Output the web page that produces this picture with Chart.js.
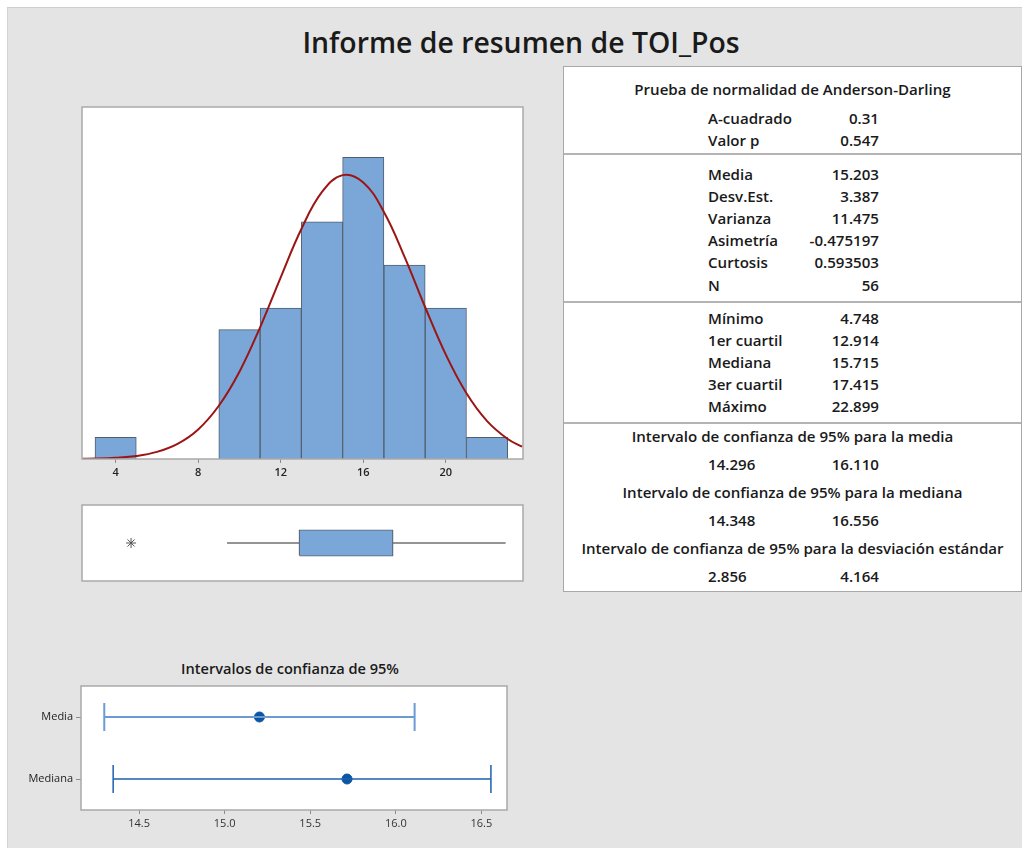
<!DOCTYPE html>
<html>
<head>
<meta charset="utf-8">
<script src="https://cdn.jsdelivr.net/npm/chart.js@4.4.1/dist/chart.umd.min.js"></script>
<style>
  body { margin: 0; background: #fff; font-family: "Open Sans", sans-serif; color: #1a1a1a; }
  #panel { position: absolute; left: 7px; top: 7px; width: 1015px; height: 841px; background: #e4e4e4;
           border-top: 1px solid #cfcfcf; border-left: 1px solid #d4d4d4; }
  .abs { position: absolute; }
  #title { left: 221px; width: 600px; top: 22px; text-align: center; font-size: 28.4px; font-weight: 600; line-height: 40px; }
  #ciTitle { left: 140px; width: 300px; top: 657px; text-align: center; font-size: 14.6px; font-weight: 600; line-height: 22px; }
  #stats { left: 563px; top: 66px; width: 457px; height: 524px; background: #fff; border: 1px solid #a8a8a8; }
  #stats div { position: absolute; font-size: 15.1px; font-weight: 600; line-height: 20px; white-space: nowrap; }
  #stats .sep { height: 0; border-top: 2px solid #b4b4b4; left: 0; width: 457px; }
  canvas { position: absolute; }
</style>
</head>
<body>
<div id="panel"></div>
<div id="title" class="abs">Informe de resumen de TOI_Pos</div>
<div id="ciTitle" class="abs">Intervalos de confianza de 95%</div>
<div id="stats" class="abs"></div>
<canvas id="hist" width="480" height="400" style="left:60px;top:95px"></canvas>
<canvas id="box" width="480" height="95" style="left:60px;top:495px"></canvas>
<canvas id="ci" width="540" height="190" style="left:0px;top:650px"></canvas>
<script>
// histogram: bin mid points (width 2) and counts
const binMids = [4, 6, 8, 10, 12, 14, 16, 18, 20, 22];
const binCounts = [1, 0, 0, 6, 7, 11, 14, 9, 7, 1];
// fitted normal curve
const curveX = [2.4, 3, 4, 5, 6, 7, 8, 9, 10, 11, 12, 13, 14, 15, 16, 17, 18, 19, 20, 21, 22, 23, 23.7];
const curveY = [0.01, 0.02, 0.06, 0.14, 0.33, 0.70, 1.37, 2.47, 4.05, 6.11, 8.43, 10.67, 12.39, 13.17, 12.83, 11.46, 9.38, 7.04, 4.84, 3.05, 1.76, 0.93, 0.57];
const histTicks = [4, 8, 12, 16, 20];

// boxplot
const boxWhiskers = [9.4, 22.899];
const boxQuartiles = [12.914, 15.715, 17.415]; // Q1, median, Q3
const boxOutliers = [4.748];

// confidence intervals
const ciCats = ['Media', 'Mediana'];
const ciLow = [14.296, 14.348];
const ciMid = [15.203, 15.715];
const ciHigh = [16.110, 16.556];
const ciTicks = [14.5, 15.0, 15.5, 16.0, 16.5];

// summary table
const adLabels = ['A-cuadrado', 'Valor p'];
const adValues = ['0.31', '0.547'];
const descLabels = ['Media', 'Desv.Est.', 'Varianza', 'Asimetría', 'Curtosis', 'N'];
const descValues = ['15.203', '3.387', '11.475', '-0.475197', '0.593503', '56'];
const quantLabels = ['Mínimo', '1er cuartil', 'Mediana', '3er cuartil', 'Máximo'];
const quantValues = ['4.748', '12.914', '15.715', '17.415', '22.899'];
const intTitles = ['Intervalo de confianza de 95% para la media',
                   'Intervalo de confianza de 95% para la mediana',
                   'Intervalo de confianza de 95% para la desviación estándar'];
const intLow = ['14.296', '14.348', '2.856'];
const intHigh = ['16.110', '16.556', '4.164'];

// ---- table ----
const stats = document.getElementById('stats');
const ROW = 22.2, LBL = 144, VAL_R = 315, TW = 457;
function put(text, cy, opts) {
  const d = document.createElement('div');
  d.textContent = text;
  d.style.top = (cy - 10) + 'px';
  if (opts === 'center') { d.style.left = '0'; d.style.width = TW + 'px'; d.style.textAlign = 'center'; }
  else if (opts === 'right') { d.style.right = (TW - VAL_R) + 'px'; }
  else d.style.left = LBL + 'px';
  stats.appendChild(d);
}
function sep(y) { const d = document.createElement('div'); d.className = 'sep'; d.style.top = y + 'px'; stats.appendChild(d); }
function rows(labels, values, y0) {
  labels.forEach((l, i) => { put(l, y0 + i * ROW); put(values[i], y0 + i * ROW, 'right'); });
}
put('Prueba de normalidad de Anderson-Darling', 22, 'center');
rows(adLabels, adValues, 50.5);
sep(85.5);
rows(descLabels, descValues, 106.5);
sep(233.5);
rows(quantLabels, quantValues, 250.5);
sep(354.5);
intTitles.forEach((t, i) => {
  const y = 369 + i * 56;
  put(t, y, 'center');
  put(intLow[i], y + 27.5);
  put(intHigh[i], y + 27.5, 'right');
});

// ---- shared ----
Chart.defaults.font.family = '"Open Sans", sans-serif';
Chart.defaults.animation = false;
Chart.defaults.plugins.legend.display = false;
Chart.defaults.plugins.tooltip.enabled = false;

const frame = {
  id: 'frame',
  beforeDraw(chart) {
    const { ctx, chartArea: a } = chart;
    ctx.save();
    ctx.fillStyle = '#fff';
    ctx.fillRect(a.left, a.top, a.right - a.left, a.bottom - a.top);
    ctx.restore();
  },
  afterDraw(chart) {
    const { ctx, chartArea: a } = chart;
    ctx.save();
    ctx.strokeStyle = '#a9a9a9';
    ctx.lineWidth = 1.5;
    ctx.strokeRect(a.left, a.top, a.right - a.left, a.bottom - a.top);
    ctx.restore();
  }
};

const XMIN = 2.37, XMAX = 23.74;

// ---- histogram ----
new Chart(document.getElementById('hist'), {
  type: 'bar',
  data: {
    datasets: [
      {
        type: 'line',
        data: curveX.map((x, i) => ({ x: x, y: curveY[i] })),
        borderColor: '#9b1515',
        borderWidth: 2,
        pointRadius: 0,
        tension: 0.4,
        order: 0
      },
      {
        data: binMids.map((x, i) => ({ x: x, y: binCounts[i] })),
        backgroundColor: '#7ba7d8',
        borderColor: '#4f5d6e',
        borderWidth: 1,
        barPercentage: 1,
        categoryPercentage: 1,
        order: 1
      }
    ]
  },
  options: {
    responsive: false,
    layout: { padding: { left: 22, top: 12, right: 17, bottom: 6 } },
    scales: {
      x: {
        type: 'linear', min: XMIN, max: XMAX, offset: false,
        grid: { offset: false, drawOnChartArea: false, tickLength: 4, color: '#8c8c8c' },
        border: { display: false },
        ticks: { color: '#222', padding: 3, font: { size: 11, weight: '600' } },
        afterBuildTicks: axis => { axis.ticks = histTicks.map(v => ({ value: v })); },
        afterFit: axis => { axis.height = 30; }
      },
      y: { display: false, min: 0, max: 16.33 }
    }
  },
  plugins: [frame]
});

// ---- boxplot ----
const H = 0.33;
const boxLine = { borderColor: '#56626f', borderWidth: 1.5, pointRadius: 0, fill: false };
new Chart(document.getElementById('box'), {
  type: 'line',
  data: {
    datasets: [
      { data: [{ x: boxQuartiles[0], y: H }, { x: boxQuartiles[2], y: H }], borderWidth: 0, pointRadius: 0,
        fill: '+1', backgroundColor: '#7ba7d8' },
      { data: [{ x: boxQuartiles[0], y: -H }, { x: boxQuartiles[2], y: -H }], borderWidth: 0, pointRadius: 0, fill: false },
      Object.assign({ data: [
        { x: boxQuartiles[0], y: -H }, { x: boxQuartiles[0], y: H }, { x: boxQuartiles[2], y: H },
        { x: boxQuartiles[2], y: -H }, { x: boxQuartiles[0], y: -H }] }, boxLine),
      Object.assign({ data: [{ x: boxQuartiles[1], y: -H }, { x: boxQuartiles[1], y: H }] }, boxLine),
      Object.assign({ data: [{ x: boxWhiskers[0], y: 0 }, { x: boxQuartiles[0], y: 0 }] }, boxLine, { borderColor: '#707070' }),
      Object.assign({ data: [{ x: boxQuartiles[2], y: 0 }, { x: boxWhiskers[1], y: 0 }] }, boxLine, { borderColor: '#707070' }),
      { data: boxOutliers.map(v => ({ x: v, y: 0 })), showLine: false, pointStyle: 'star', pointRadius: 5,
        pointBorderColor: '#555', pointBorderWidth: 1 }
    ]
  },
  options: {
    responsive: false,
    layout: { padding: { left: 22, top: 10, right: 17, bottom: 9 } },
    scales: {
      x: { type: 'linear', display: false, min: XMIN, max: XMAX },
      y: { type: 'linear', display: false, min: -1, max: 1 }
    }
  },
  plugins: [frame]
});

// ---- confidence intervals ----
const ciColors = ['#6b9bd2', '#1d5fae'];
const ciDatasets = [];
ciCats.forEach((c, i) => {
  ciDatasets.push({
    data: [{ x: ciLow[i], y: c }, { x: ciHigh[i], y: c }],
    borderColor: ciColors[i], borderWidth: i === 0 ? 2 : 1.5,
    pointStyle: 'line', pointRotation: 90, pointRadius: 14, pointBorderWidth: i === 0 ? 2 : 1.5,
    pointBorderColor: ciColors[i]
  });
  ciDatasets.push({
    data: [{ x: ciMid[i], y: c }], showLine: false,
    pointRadius: 5, pointBackgroundColor: '#0b55a5', pointBorderColor: '#0b55a5'
  });
});
new Chart(document.getElementById('ci'), {
  type: 'line',
  data: { datasets: ciDatasets },
  options: {
    responsive: false,
    layout: { padding: { left: 0, top: 36, right: 33, bottom: 4 } },
    scales: {
      x: {
        type: 'linear', min: 14.16, max: 16.65,
        grid: { drawOnChartArea: false, tickLength: 4, color: '#8c8c8c' },
        border: { display: false },
        ticks: { color: '#333', padding: 3, font: { size: 11 }, callback: v => Number(v).toFixed(1) },
        afterBuildTicks: axis => { axis.ticks = ciTicks.map(v => ({ value: v })); },
        afterFit: axis => { axis.height = 26; }
      },
      y: {
        type: 'category', labels: ciCats, offset: true,
        grid: { drawOnChartArea: false, offset: false, tickLength: 5, color: '#8c8c8c' },
        border: { display: false },
        ticks: { color: '#222', padding: 3, font: { size: 11 } },
        afterFit: axis => { axis.width = 81; }
      }
    }
  },
  plugins: [frame]
});
</script>
</body>
</html>
